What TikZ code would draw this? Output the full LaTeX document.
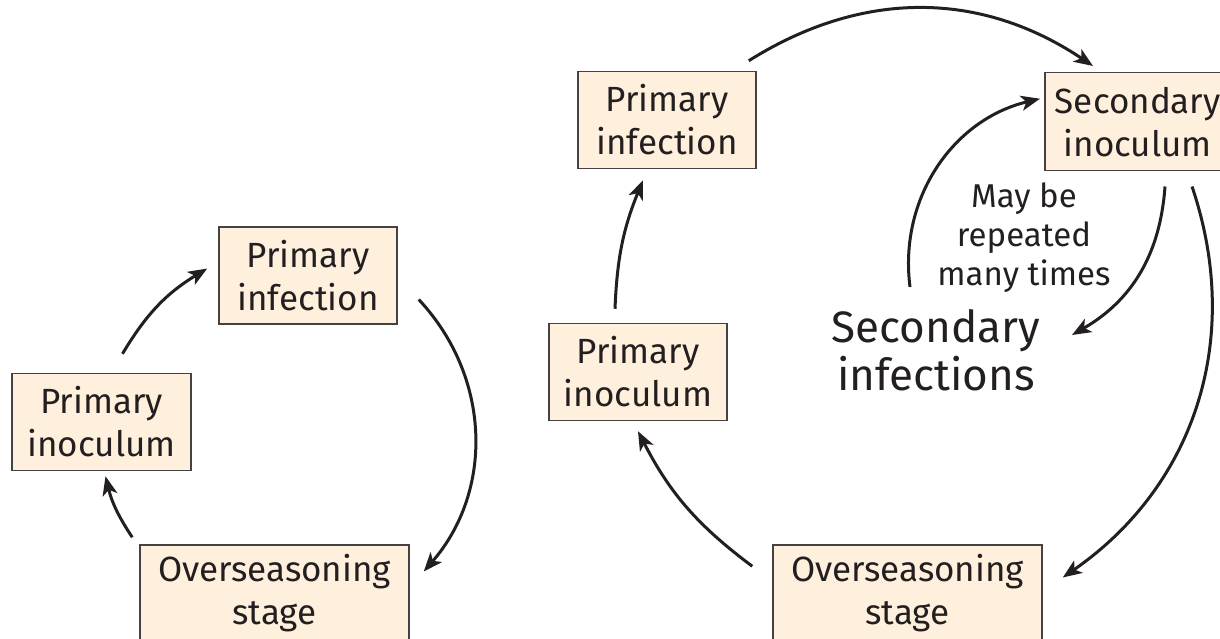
\documentclass[tikz,border=0pt]{standalone}
\usepackage{fontspec}
\setmainfont{Fira Sans}
\usepackage{tikz}
\usetikzlibrary{
  arrows.meta,
  positioning
}
\definecolor{BoxFill}{RGB}{254, 240, 221}
\definecolor{BoxLine}{RGB}{68, 66, 66}
\definecolor{InkDark}{RGB}{35, 31, 32}

\newcommand{\boxfont}{\fontsize{35}{43}\selectfont}
\newcommand{\notefont}{\fontsize{33}{39}\selectfont}
\newcommand{\bigfont}{\fontsize{44}{48}\selectfont}

\tikzset{
  stagebox/.style={draw=BoxLine, fill=BoxFill, line width=1.5pt, align=center,
    font=\boxfont, text=InkDark, minimum height=97pt, inner sep=0pt},
  cyclearrow/.style={-{Stealth[length=19pt, width=15pt, inset=5pt]},
    line width=3pt, draw=InkDark},
}

\begin{document}
\begin{tikzpicture}[x=1pt, y=1pt]
  \clip (0,0) rectangle (1220,-639);

  % simple cycle
  \node[stagebox, minimum width=178pt] (linf) at (308,-275.5) {Primary\\infection};
  \node[stagebox, minimum width=179pt] (linoc) at (101.5,-422) {Primary\\inoculum};
  \node[stagebox, minimum width=269pt] (lover) at (274.5,-593.5) {Overseasoning\\stage};

  \draw[cyclearrow] ([shift={(21,19)}]linoc.north) to[bend left=14] ([shift={(-11,7)}]linf.west);
  \draw[cyclearrow] ([shift={(21,-24)}]linf.east) to[bend left=42] ([shift={(14,22)}]lover.east);
  \draw[cyclearrow] ([shift={(-7,7)}]lover.north west) to[bend left=10] ([shift={(4,-5)}]linoc.south);

  % cycle with secondary infections
  \node[stagebox, minimum width=178pt] (rinf) at (667,-120) {Primary\\infection};
  \node[stagebox, minimum width=178pt] (rinoc) at (638,-372) {Primary\\inoculum};
  \node[stagebox, minimum width=269pt] (rover) at (907.5,-593.5) {Overseasoning\\stage};
  \node[stagebox, minimum width=186pt, minimum height=98pt, anchor=north west] (sinoc) at (1044,-72) {Secondary\\inoculum};

  \node[align=center, font=\notefont, text=InkDark, inner sep=0pt] (repeat) at (1024,-238) {May be\\repeated\\many times};
  \node[align=center, font=\bigfont, text=InkDark, inner sep=0pt] (secinf) at (936,-350) {Secondary\\infections};

  \draw[cyclearrow] ([shift={(-23,14)}]rinoc.north) to[bend left=10] ([shift={(-24,-11)}]rinf.south);
  \draw[cyclearrow] ([shift={(-8,10)}]rinf.north east) to[bend left=33] ([shift={(49,6)}]sinoc.north west);
  \draw[cyclearrow] ([shift={(148,-15)}]sinoc.south west) to[bend left=37] ([shift={(20,16)}]rover.east);
  \draw[cyclearrow] ([shift={(-20,-22)}]rover.north west) to[bend left=13] ([shift={(0,-10)}]rinoc.south);

  % repeated loop
  \draw[cyclearrow] ([shift={(121,-15)}]sinoc.south west) to[bend left=28] ([shift={(136,15)}]secinf.center);
  \draw[cyclearrow] ([shift={(-26,63)}]secinf.center) to[bend left=42] ([shift={(-4,23)}]sinoc.west);
\end{tikzpicture}
\end{document}
